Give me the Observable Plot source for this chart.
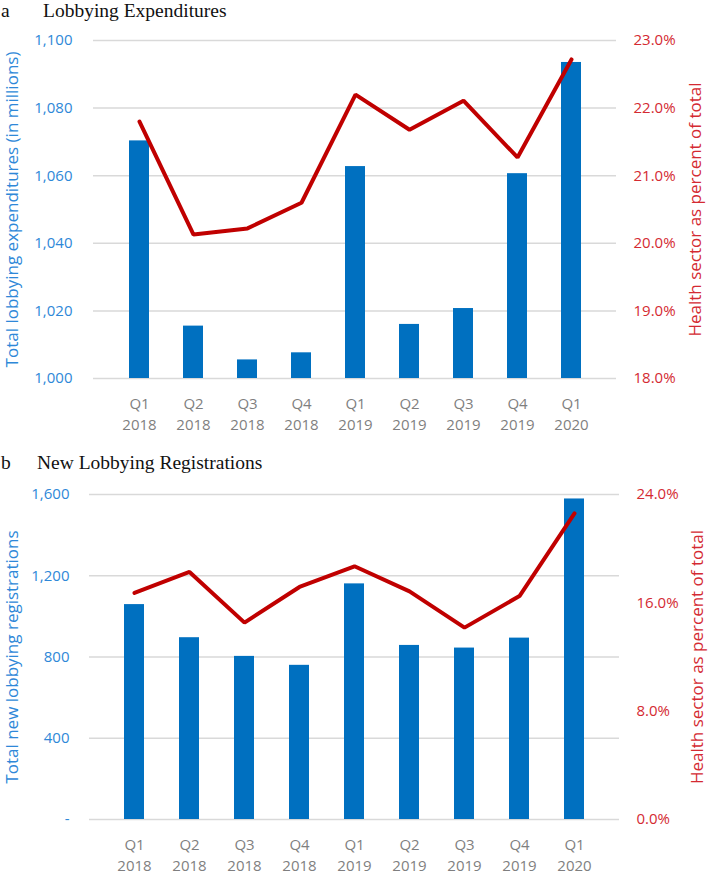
<!DOCTYPE html>
<html>
<head>
<meta charset="utf-8">
<script src="https://cdn.jsdelivr.net/npm/d3@7"></script>
<script src="https://cdn.jsdelivr.net/npm/@observablehq/plot@0.6"></script>
<style>
  body { margin: 0; background: #fff; }
  #wrap { position: relative; width: 708px; height: 874px; overflow: hidden; }
  .ttl { position: absolute; font-family: "Liberation Serif", "Times New Roman", serif; font-size: 19.5px; line-height: 1; color: #111; white-space: nowrap; }
  .chart { position: absolute; left: 0; }
  .chart svg { overflow: visible; }
</style>
</head>
<body>
<div id="wrap">
  <div class="ttl" style="left:1px; top:1px;">a</div>
  <div class="ttl" style="left:43px; top:1px;">Lobbying Expenditures</div>
  <div id="c1" class="chart" style="top:22px;"></div>
  <div class="ttl" style="left:1px; top:453px;">b</div>
  <div class="ttl" style="left:37px; top:453px;">New Lobbying Registrations</div>
  <div id="c2" class="chart" style="top:474px;"></div>
</div>
<script>
// Categories
const quarters = ["Q1\n2018","Q2\n2018","Q3\n2018","Q4\n2018","Q1\n2019","Q2\n2019","Q3\n2019","Q4\n2019","Q1\n2020"];

// Panel a: lobbying expenditures (millions) and health share (%)
const expenditures = [1070.3, 1015.5, 1005.5, 1007.6, 1062.7, 1016.0, 1020.7, 1060.6, 1093.5];
const expHealthPct = [21.8, 20.13, 20.22, 20.6, 22.2, 21.68, 22.11, 21.27, 22.72];
const expLeftTicks = [1000, 1020, 1040, 1060, 1080, 1100];
const expRightTicks = [18, 19, 20, 21, 22, 23];

// Panel b: new registrations and health share (%)
const registrations = [1058, 895, 803, 759, 1160, 857, 844, 893, 1578];
const regHealthPct = [16.73, 18.28, 14.54, 17.17, 18.7, 16.85, 14.17, 16.5, 22.6];
const regLeftTicks = [0, 400, 800, 1200, 1600];
const regRightTicks = [0, 8, 16, 24];

const BLUE_BAR = "#0070C0";
const BLUE_TXT = "#2E88D8";
const RED_LINE = "#C00000";
const RED_TXT = "#D42A32";
const GRAY_TXT = "#7f7f7f";
const GRID = "#d9d9d9";
const FONT = "'Open Sans', 'Liberation Sans', sans-serif";

function dualChart({values, pct, leftTicks, rightTicks, leftDomain, rightDomain,
                    leftFmt, rightFmt, leftTitle, rightTitle, height, mt, mb, ml, mr, lpad, rpad, ldx, rdx}) {
  const [l0, l1] = leftDomain, [r0, r1] = rightDomain;
  const toLeft = p => l0 + (p - r0) * (l1 - l0) / (r1 - r0);
  const fromLeft = v => r0 + (v - l0) * (r1 - r0) / (l1 - l0);
  const bars = quarters.map((q, i) => ({q, v: values[i]}));
  const line = quarters.map((q, i) => ({q, v: toLeft(pct[i])}));
  return Plot.plot({
    width: 708, height,
    marginTop: mt, marginBottom: mb, marginLeft: ml, marginRight: mr,
    style: {fontFamily: FONT, fontSize: "15px", background: "white", overflow: "visible"},
    x: {domain: quarters, padding: 0.635, label: null},
    y: {domain: leftDomain, label: null},
    marks: [
      Plot.ruleY(leftTicks, {stroke: GRID, strokeWidth: 1.5}),
      Plot.barY(bars, {x: "q", y1: l0, y2: "v", fill: BLUE_BAR}),
      Plot.line(line, {x: "q", y: "v", stroke: RED_LINE, strokeWidth: 4, strokeLinejoin: "miter", strokeLinecap: "round"}),
      Plot.axisX({tickSize: 0, tickPadding: 15, lineHeight: 1.42, fill: GRAY_TXT, fontSize: 15, label: null}),
      Plot.axisY(leftTicks, {anchor: "left", tickSize: 0, tickPadding: lpad, tickFormat: leftFmt, fill: BLUE_TXT, fontSize: 15, label: null}),
      Plot.axisY(rightTicks.map(toLeft), {anchor: "right", tickSize: 0, tickPadding: rpad, tickFormat: v => rightFmt(fromLeft(v)), fill: RED_TXT, fontSize: 15, label: null}),
      Plot.text([leftTitle], {frameAnchor: "left", text: d => d, rotate: -90, dx: -ldx, textAnchor: "middle", fill: BLUE_TXT, fontSize: 17}),
      Plot.text([rightTitle], {frameAnchor: "right", text: d => d, rotate: -90, dx: rdx, textAnchor: "middle", fill: RED_TXT, fontSize: 17})
    ]
  });
}

const c1 = dualChart({
  values: expenditures, pct: expHealthPct,
  leftTicks: expLeftTicks, rightTicks: expRightTicks,
  leftDomain: [1000, 1100], rightDomain: [18, 23],
  leftFmt: d3.format(","), rightFmt: v => v.toFixed(1) + "%",
  leftTitle: "Total lobbying expenditures (in millions)",
  rightTitle: "Health sector as percent of total",
  height: 408, mt: 18, mb: 52, ml: 93, mr: 92, lpad: 21, rpad: 17, ldx: 81, rdx: 79
});
document.getElementById("c1").appendChild(c1);

const c2 = dualChart({
  values: registrations, pct: regHealthPct,
  leftTicks: regLeftTicks, rightTicks: regRightTicks,
  leftDomain: [0, 1600], rightDomain: [0, 24],
  leftFmt: d => d === 0 ? "-" : d3.format(",")(d), rightFmt: v => v.toFixed(1) + "%",
  leftTitle: "Total new lobbying registrations",
  rightTitle: "Health sector as percent of total",
  height: 400, mt: 20, mb: 55, ml: 89, mr: 89, lpad: 20, rpad: 17, ldx: 77, rdx: 78
});
document.getElementById("c2").appendChild(c2);
</script>
</body>
</html>
